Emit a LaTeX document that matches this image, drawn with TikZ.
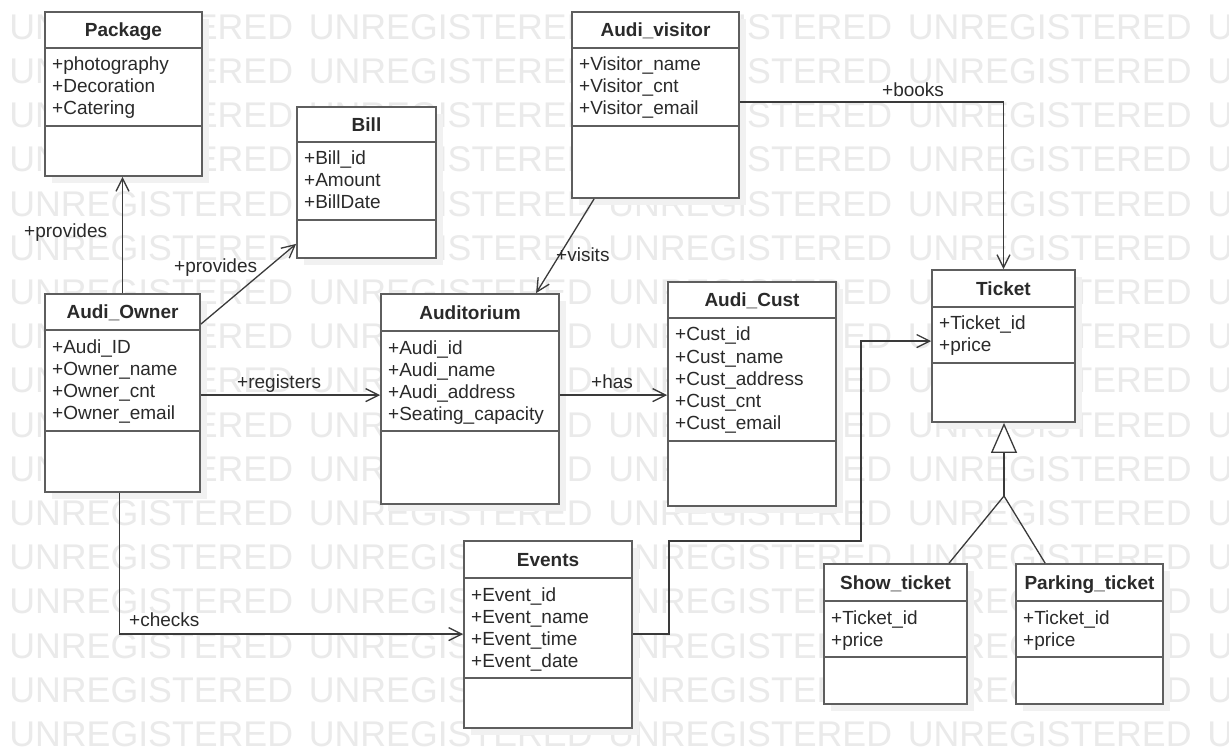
\documentclass[tikz,border=0pt]{standalone}
\usepackage{fontspec}
\setmainfont{Liberation Sans}
\usetikzlibrary{arrows.meta,calc}
\definecolor{boxline}{HTML}{5E5E5E}
\definecolor{txt}{HTML}{2A2A2A}
\definecolor{linec}{HTML}{3A3A3A}
\definecolor{wmc}{HTML}{EAEAEA}
\definecolor{shadowc}{HTML}{F1F1F1}
\tikzset{
  box/.style={draw=boxline, line width=1.8pt, fill=white, inner sep=0pt},
  divider/.style={draw=boxline, line width=1.8pt},
  ttl/.style={font=\fontsize{19}{22}\selectfont\bfseries, text=txt, inner sep=0pt, anchor=base},
  attr/.style={font=\fontsize{19}{22}\selectfont, text=txt, inner sep=0pt, anchor=base west},
  lbl/.style={attr},
  conn/.style={draw=linec, line width=1.3pt},
  arr/.style={conn, -{Straight Barb[length=13pt,width=13pt]}},
  gen/.style={conn, -{Triangle[open,length=30pt,width=26pt,fill=white]}},
  wm/.style={font=\fontsize{35.7}{40}\selectfont, text=wmc, inner sep=0pt, anchor=west},
}
% #1 name, #2 left, #3 top, #4 right, #5 bottom, #6 divider 1, #7 divider 2, #8 title, #9 attributes
\newcommand\umlclass[9]{%
  \fill[shadowc] (#2+7,#3+7) rectangle (#4+7,#5+7);
  \node[box, minimum width={#4-#2}, minimum height={#5-#3}] (#1) at ({(#2+#4)/2},{(#3+#5)/2}) {};
  \draw[divider] (#2,#6) -- (#4,#6) (#2,#7) -- (#4,#7);
  \node[ttl] (#1-title) at ({(#2+#4)/2},{(#3+#6)/2+6.8}) {#8};
  \foreach \a [count=\i from 0] in {#9} {\node[attr] (#1-a\i) at (#2+7,{#6+23+22*\i}) {\a};}
}
\begin{document}
\begin{tikzpicture}[x=1pt,y=-1pt]
\useasboundingbox (0,0) rectangle (1229,751);
\clip (0,0) rectangle (1229,751);
\fill[white] (0,0) rectangle (1229,751);
% watermark
\foreach \r in {0,...,16}{
  \foreach \c in {0,...,4}{
    \node[wm] (wm-\r-\c) at ({9.2+299.5*\c},{27+44.2*\r}) {UNREGISTERED};
  }
}
% classes
\umlclass{pkg}{45}{12}{202}{176}{48}{126}{Package}{+photography,+Decoration,+Catering}
\umlclass{bill}{297}{107}{436}{258}{142}{220}{Bill}{+Bill\_id,+Amount,+BillDate}
\umlclass{vis}{572}{12}{739}{198}{48}{126}{Audi\_visitor}{+Visitor\_name,+Visitor\_cnt,+Visitor\_email}
\umlclass{owner}{45}{294}{200}{492}{330}{431}{Audi\_Owner}{+Audi\_ID,+Owner\_name,+Owner\_cnt,+Owner\_email}
\umlclass{aud}{381}{294}{559}{504}{331}{431}{Auditorium}{+Audi\_id,+Audi\_name,+Audi\_address,+Seating\_capacity}
\umlclass{cust}{668}{282}{836}{506}{318}{441}{Audi\_Cust}{+Cust\_id,+Cust\_name,+Cust\_address,+Cust\_cnt,+Cust\_email}
\umlclass{ticket}{932}{270}{1075}{422}{307}{363}{Ticket}{+Ticket\_id,+price}
\umlclass{events}{464}{541}{632}{728}{578}{678}{Events}{+Event\_id,+Event\_name,+Event\_time,+Event\_date}
\umlclass{show}{824}{564}{967}{704}{601}{657}{Show\_ticket}{+Ticket\_id,+price}
\umlclass{park}{1016}{564}{1163}{704}{601}{657}{Parking\_ticket}{+Ticket\_id,+price}
% connectors
\draw[arr] (owner.north) -- (owner.north |- pkg.south);
\draw[arr] ($(owner.north east)+(0,31)$) -- ($(bill.south west)+(0,-15)$);
\draw[arr] ($(owner.north east)+(0,102)$) coordinate (r1) -- (r1 -| aud.west);
\draw[arr] ($(aud.north east)+(0,102)$) coordinate (h1) -- (h1 -| cust.west);
\draw[arr] ($(vis.south west)+(23,0)$) -- ($(aud.north west)+(156,0)$);
\draw[arr] ($(vis.north east)+(0,91)$) -| (ticket.north);
\draw[arr] ($(owner.south)+(-3,0)$) |- ($(events.north west)+(0,94)$);
\draw[arr] ($(events.north east)+(0,94)$) -- ++(36,0) -- ++(0,-93) -- ++(192,0) |- ($(ticket.north west)+(0,72)$);
\coordinate (gj) at (1004,496);
\draw[conn] ($(show.north west)+(126,0)$) -- (gj) -- ($(park.north west)+(30,0)$);
\draw[gen] (gj) -- (gj |- ticket.south);
% labels
\node[lbl] (l-prov1) at (24,238) {+provides};
\node[lbl] (l-prov2) at (174,273) {+provides};
\node[lbl] (l-reg) at (237,388) {+registers};
\node[lbl] (l-has) at (591,388) {+has};
\node[lbl] (l-vis) at (556,262) {+visits};
\node[lbl] (l-books) at (882,97) {+books};
\node[lbl] (l-chk) at (129,626) {+checks};
\end{tikzpicture}
\end{document}
